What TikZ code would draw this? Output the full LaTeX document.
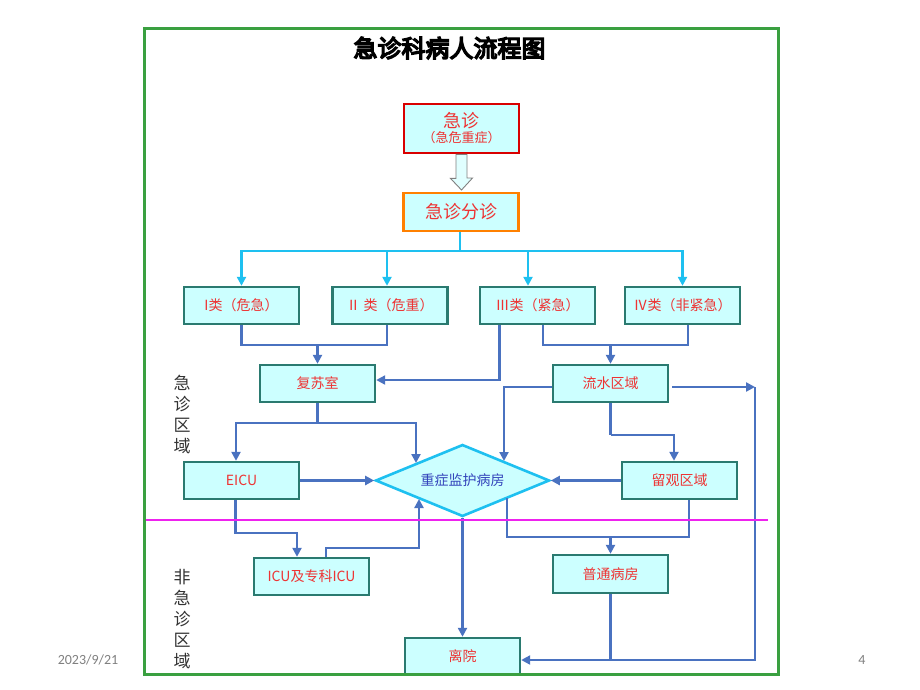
\documentclass[tikz,border=0pt]{standalone}
\usepackage{fontspec}
\setmainfont{Noto Sans CJK SC}
\newfontfamily\titlefont[FakeBold=6]{Noto Sans CJK SC}
\newfontfamily\datefont{Carlito}
\usetikzlibrary{shapes.geometric,arrows.meta}
\definecolor{boxfill}{HTML}{CCFFFF}
\definecolor{boxline}{HTML}{2A7A70}
\definecolor{txtred}{HTML}{EE3333}
\definecolor{conn}{HTML}{4A72C0}
\definecolor{cyanl}{HTML}{1EC0F0}
\definecolor{frame}{HTML}{3AA040}
\definecolor{magl}{HTML}{EE22EE}
\definecolor{diatxt}{HTML}{3344BB}
\begin{document}
\begin{tikzpicture}[x=1pt,y=-1pt,
  box/.style={draw=boxline,line width=2.4pt,fill=boxfill,minimum width=115pt,minimum height=37pt,inner sep=0pt,text=txtred,font=\fontsize{14}{16}\selectfont},
  flow/.style={draw=conn,line width=2.4pt,-{Triangle[length=9pt,width=9pt]}},
  plain/.style={draw=conn,line width=2.4pt},
  cflow/.style={draw=cyanl,line width=2.4pt,-{Triangle[length=9pt,width=9pt]}},
  cplain/.style={draw=cyanl,line width=2.4pt},
  side/.style={text=black!80,font=\fontsize{17}{21}\selectfont,align=center}]
\useasboundingbox (0,0) rectangle (920,690);
\fill[white] (0,0) rectangle (920,690);
% title
\node (title) at (449.5,48) {\titlefont\fontsize{24}{26}\selectfont 急诊科病人流程图};
% top boxes
\node[box,draw=red!85!black,line width=2.8pt,minimum height=49pt,align=center] (jz) at (461.5,128.5)
  {\fontsize{18}{22}\selectfont 急诊\\[-1pt]\fontsize{13}{15}\selectfont（急危重症）};
\node[box,draw=orange,line width=2.8pt,minimum height=38pt,font=\fontsize{18}{20}\selectfont] (fz) at (461,212) {急诊分诊};
% hollow arrow
\draw[gray,line width=0.9pt,fill=boxfill!60!white]
  ([xshift=-5.5pt]jz.south) -- ++(0,24) -- ++(-5.5,0) -- (461.5,190) -- (472.5,178) -- ++(-5.5,0) -- ([xshift=5.5pt]jz.south) -- cycle;
% class boxes
\node[box] (c1) at (241.5,305.5) {I类（危急）};
\node[box] (c2) at (390,305.5) {Ⅱ 类（危重）};
\node[box] (c3) at (537.5,305.5) {Ⅲ类（紧急）};
\node[box] (c4) at (682.5,305.5) {Ⅳ类（非紧急）};
\node[box] (fss) at (317.5,383.5) {复苏室};
\node[box] (ls) at (610.5,383.5) {流水区域};
\node[box] (eicu) at (241.5,480.5) {EICU};
\node[box] (lg) at (679.5,480.5) {留观区域};
\node[draw=cyanl,line width=2.6pt,fill=boxfill,diamond,shape aspect=2.4,minimum width=174pt,minimum height=72pt,inner sep=0pt,text=diatxt,font=\fontsize{14}{16}\selectfont] (dia) at (462.5,480.5) {重症监护病房};
\node[box] (icu) at (311.5,576.5) {ICU及专科ICU};
\node[box,minimum height=38pt] (pt) at (610.5,574) {普通病房};
\node[box] (ly) at (462.5,656.5) {离院};
% side labels
\node[side] (s1) at (182,415) {急\\诊\\区\\域};
\node[side] (s2) at (182,619) {非\\急\\诊\\区\\域};
% top cyan connectors
\coordinate (hub) at (460,251);
\draw[cplain] (fz.south -| hub) -- (hub);
\draw[cflow] (hub) -| (c1.north);
\draw[cflow] (hub) -| ([xshift=-3pt]c2.north);
\draw[cflow] (hub) -| ([xshift=-9.5pt]c3.north);
\draw[cflow] (hub) -| (c4.north);
% class to rooms
\coordinate (m12) at (317.5,345);
\draw[plain] (c1.south) |- (m12) -| ([xshift=-3pt]c2.south);
\draw[flow] (m12) -- (fss.north);
\draw[flow] ([xshift=-38pt]c3.south) |- ([yshift=3.5pt]fss.east);
\coordinate (m34) at (610.5,345);
\draw[plain] ([xshift=5.5pt]c3.south) |- (m34) -| ([xshift=5.5pt]c4.south);
\draw[flow] (m34) -- (ls.north);
% resuscitation room
\coordinate (fj) at (317.5,423);
\coordinate (d1) at (416,463);
\draw[plain] (fss.south) -- (fj);
\draw[flow] (fj) -| ([xshift=-5.5pt]eicu.north);
\draw[flow] (fj) -| (d1);
\draw[flow] (eicu.east) -- (dia.west);
% flow area
\coordinate (d2) at (504,461);
\draw[flow] ([yshift=-3.5pt]ls.west) -| (d2);
\coordinate (lj) at (610.5,435);
\draw[plain] (ls.south) -- (lj);
\draw[flow] (lj) -| ([xshift=-5.5pt]lg.north);
\coordinate (rt) at (755,387);
\coordinate (lyin) at ([yshift=-3.5pt]ly.east);
\draw[flow] ([yshift=-3.5pt,xshift=3pt]ls.east) -- (rt);
\draw[flow] (rt) |- (lyin);
\draw[flow] (lg.west) -- (dia.east);
% EICU to ICU
\coordinate (e1) at (235.5,533);
\draw[flow] ([xshift=-6pt]eicu.south) -- (e1) -| ([xshift=-14.5pt]icu.north);
\coordinate (i2) at (419,548);
\coordinate (d3) at (419,499);
\draw[flow] ([xshift=14.5pt]icu.north) |- (i2) -- (d3);
% diamond down
\draw[flow] (dia.south) -- (ly.north);
\coordinate (d4) at (507,498);
\coordinate (p1) at (610.5,537);
\draw[plain] (d4) |- (p1) -| ([xshift=9.5pt]lg.south);
\draw[flow] (p1) -- (pt.north);
\draw[plain] (pt.south) -- (pt.south |- lyin);
% magenta divider
\draw[magl,line width=2.2pt] (145,520) -- (768,520);
% frame
\draw[frame,line width=3pt] (144,29) rectangle (778,674);
% footer
\node[text=black!50,font=\datefont\fontsize{14}{16}\selectfont] (date) at (88,660) {2023/9/21};
\node[text=black!50,font=\datefont\fontsize{14}{16}\selectfont] (pg) at (862,660) {4};
\end{tikzpicture}
\end{document}
